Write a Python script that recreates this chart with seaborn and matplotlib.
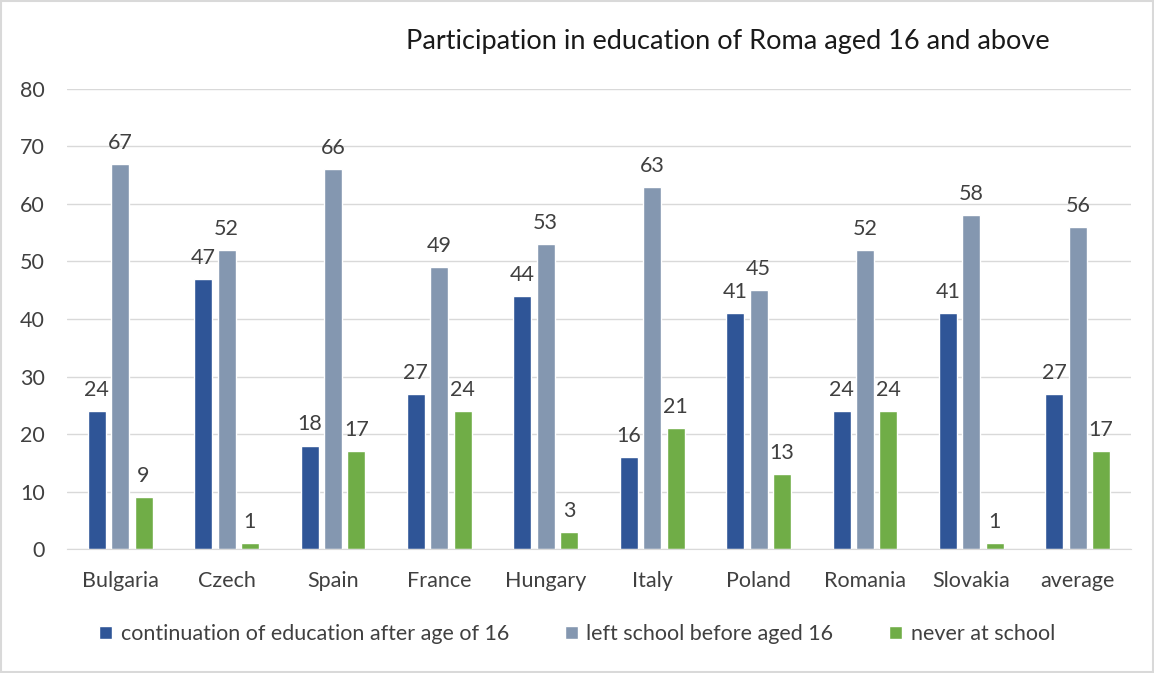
import matplotlib
matplotlib.use("Agg")
import matplotlib.pyplot as plt
import seaborn as sns
import pandas as pd
from matplotlib.patches import Rectangle

countries = ["Bulgaria", "Czech", "Spain", "France", "Hungary", "Italy",
             "Poland", "Romania", "Slovakia", "average"]
continuation = [24, 47, 18, 27, 44, 16, 41, 24, 41, 27]
left_school = [67, 52, 66, 49, 53, 63, 45, 52, 58, 56]
never_school = [9, 1, 17, 24, 3, 21, 13, 24, 1, 17]
series_names = ["continuation of education after age of 16",
                "left school before aged 16",
                "never at school"]
colors = ["#2F5597", "#8497B0", "#70AD47"]

rows = []
for name, vals in zip(series_names, [continuation, left_school, never_school]):
    for c, v in zip(countries, vals):
        rows.append({"country": c, "series": name, "value": v})
df = pd.DataFrame(rows)

sns.set_style("white")
plt.rcParams["font.family"] = ["Lato", "DejaVu Sans"]

fig = plt.figure(figsize=(11.54, 6.73), dpi=100)
ax = fig.add_axes([0.058, 0.184, 0.922, 0.684])

sns.barplot(data=df, x="country", y="value", hue="series", order=countries,
            hue_order=series_names, palette=colors, width=0.66, gap=0.23,
            saturation=1, ax=ax, legend=True)

for cont in ax.containers:
    ax.bar_label(cont, padding=8, fontsize=15.5, color="#404040")

ax.set_ylim(0, 80)
ax.set_yticks(range(0, 81, 10))
ax.set_xlim(-0.5, len(countries) - 0.5)
ax.grid(axis="y", color="#D9D9D9", linewidth=1)
ax.set_axisbelow(True)
for s in ["left", "right", "top"]:
    ax.spines[s].set_visible(False)
ax.spines["bottom"].set_color("#D9D9D9")
ax.tick_params(axis="both", length=0, labelsize=15.5, colors="#404040")
ax.tick_params(axis="y", pad=16)
ax.tick_params(axis="x", pad=16)
ax.set_xlabel("")
ax.set_ylabel("")

ax.legend(loc="center", bbox_to_anchor=(0.5, 0.058), bbox_transform=fig.transFigure,
          ncol=3, frameon=False, fontsize=15.5, handlelength=0.6, handleheight=0.6,
          columnspacing=2.6, handletextpad=0.4, labelcolor="#404040")

fig.text(0.631, 0.938, "Participation in education of Roma aged 16 and above",
         ha="center", va="center", fontsize=19.5, color="#1a1a1a")

fig.patches.append(Rectangle((0.001, 0.001), 0.998, 0.997, transform=fig.transFigure,
                             fill=False, edgecolor="#D9D9D9", linewidth=1.5))

fig.savefig("out.png", dpi=100)
